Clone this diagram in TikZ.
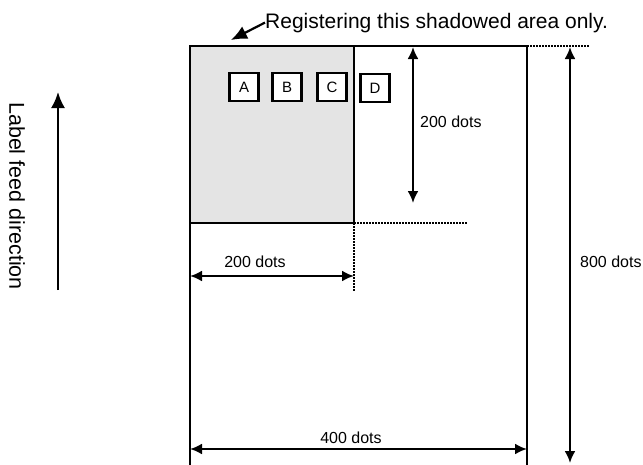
\documentclass[tikz,border=0pt]{standalone}
\usepackage{fontspec}
\setmainfont{Liberation Sans}
\usetikzlibrary{arrows.meta}
\begin{document}
\begin{tikzpicture}[x=1pt,y=-1pt,
  frame/.style={line width=2.4pt},
  dimline/.style={line width=2.2pt,{Latex[length=12pt,width=11pt]}-{Latex[length=12pt,width=11pt]}},
  onearrow/.style={line width=2.2pt,-{Latex[length=16pt,width=14pt]}},
  dotline/.style={line width=1.6pt,dash pattern=on 1.5pt off 1.5pt},
  letterbox/.style={draw,line width=2.4pt,minimum width=29pt,minimum height=28pt,inner sep=0pt,font=\fontsize{15}{18}\selectfont,fill=white},
  dimtext/.style={inner sep=0pt,font=\fontsize{16}{19}\selectfont},
  bigtext/.style={inner sep=0pt,font=\fontsize{21}{25}\selectfont}]
\useasboundingbox (0,0) rectangle (643,464);
% coordinates
\coordinate (TL) at (190,46);
\coordinate (TR) at (527,46);
\coordinate (BL) at (190,470);
\coordinate (BR) at (527,470);
\coordinate (SC) at (354,223);
% shaded area
\fill[fill={rgb,255:red,228;green,228;blue,228}] (190,46) rectangle (354,223);
\draw[frame] (190,223) -- (354,223) -- (354,46);
\draw[frame] (BL) -- (TL) -- (TR) -- (BR);
% letter boxes
\node[letterbox] (A) at (244,87) {A};
\node[letterbox] (B) at (287,87) {B};
\node[letterbox] (C) at (332,87) {C};
\node[letterbox] (D) at (375,88) {D};
% dotted extension lines
\coordinate (dotH) at (468,223);
\coordinate (dotV) at (354,291);
\coordinate (dotT) at (590,46);
\draw[dotline] (SC) -- (dotH);
\draw[dotline] (SC) -- (dotV);
\draw[dotline] (TR) -- (dotT);
% 200 dots vertical
\coordinate (v2a) at (413,47);
\coordinate (v2b) at (413,203);
\draw[dimline] (v2a) -- (v2b);
\node[dimtext,anchor=base west] (t200v) at (420,127) {200 dots};
% 200 dots horizontal
\coordinate (h2a) at (190,276);
\coordinate (h2b) at (354,276);
\draw[dimline] (h2a) -- (h2b);
\node[dimtext,anchor=base] (t200h) at (255,267) {200 dots};
% 400 dots
\coordinate (h4a) at (190,449);
\coordinate (h4b) at (527,449);
\draw[dimline] (h4a) -- (h4b);
\node[dimtext,anchor=base] (t400) at (351,443) {400 dots};
% 800 dots
\coordinate (v8a) at (570,47);
\coordinate (v8b) at (570,463);
\draw[dimline] (v8a) -- (v8b);
\node[dimtext,anchor=base west] (t800) at (580,267) {800 dots};
% top pointer
\node[bigtext,anchor=base west] (reg) at (265,28) {Registering this shadowed area only.};
\coordinate (ptip) at (231,40);
\draw[onearrow] (reg.west) -- (ptip);
% feed direction
\coordinate (fa) at (58,290);
\coordinate (fb) at (58,92);
\draw[onearrow] (fa) -- (fb);
\node[bigtext,rotate=-90,font=\fontsize{21.5}{25}\selectfont] (feed) at (17,196) {Label feed direction};
\end{tikzpicture}
\end{document}
